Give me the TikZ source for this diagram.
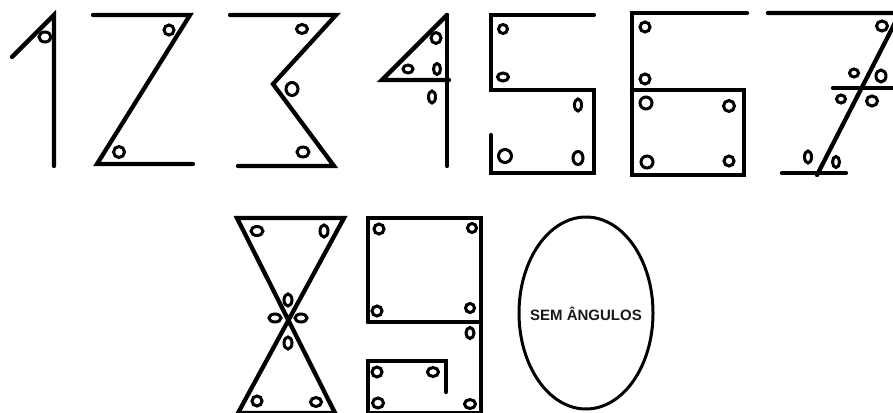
\documentclass[tikz,border=0pt]{standalone}
\usepackage{fontspec}
\newfontfamily\labelfont{Liberation Sans}
\usepackage{tikz}

\begin{document}
\begin{tikzpicture}[x=1pt,y=-1pt,dig/.style={line width=4.3pt,line cap=round,line join=miter},ring/.style={line width=3pt},oval/.style={line width=3pt},lbl/.style={font=\labelfont\bfseries\fontsize{15}{18}\selectfont,text=black!90}]
\clip (0,0) rectangle (893,412);
% 1
\draw[dig] (12,57)--(54,15)--(54,166);
\draw[ring] (45,37) ellipse (6 and 5);
% 2
\draw[dig] (93,15)--(190,15)--(97,164)--(193,164);
\draw[ring] (169,30) ellipse (5 and 5); \draw[ring] (119,152) ellipse (5.5 and 5.5);
% 3
\draw[dig] (230,15)--(336,15)--(273,84)--(334,166)--(238,166);
\draw[ring] (302,29) ellipse (5.5 and 4.5); \draw[ring] (292,89) ellipse (6 and 6.5); \draw[ring] (303,152) ellipse (6 and 5);
% 4
\draw[dig] (447,15)--(447,166); \draw[dig] (447,15)--(382,80)--(449,80);
\draw[ring] (436,38) ellipse (5 and 5.5); \draw[ring] (408,69) ellipse (5 and 4); \draw[ring] (437,69) ellipse (3.5 and 5.5); \draw[ring] (432,97) ellipse (3.5 and 6);
% 5
\draw[dig] (594,15)--(491,15)--(491,90)--(594,90)--(594,173)--(491,173)--(491,135);
\draw[ring] (503,29) ellipse (4.5 and 4.5); \draw[ring] (503,77) ellipse (5.5 and 4); \draw[ring] (578,105) ellipse (3.5 and 6); \draw[ring] (505,156) ellipse (6.5 and 6.5); \draw[ring] (578,158) ellipse (5 and 6.5);
% 6
\draw[dig] (747,13)--(632,13)--(632,175)--(744,175)--(744,90)--(632,90);
\draw[ring] (645,27) ellipse (5 and 5); \draw[ring] (645,79) ellipse (5 and 5); \draw[ring] (646,103) ellipse (6 and 6); \draw[ring] (729,106) ellipse (5.5 and 5.5); \draw[ring] (647,162) ellipse (6 and 6); \draw[ring] (729,161) ellipse (5 and 5);
% 7
\draw[dig] (768,13)--(900,13)--(817,175); \draw[dig] (833,88)--(900,88); \draw[dig] (782,173)--(846,173);
\draw[ring] (882,26) ellipse (5.5 and 5); \draw[ring] (854,73) ellipse (4.5 and 4); \draw[ring] (881,76) ellipse (5 and 6); \draw[ring] (841,99) ellipse (4.5 and 4); \draw[ring] (872,101) ellipse (5.5 and 5); \draw[ring] (808,157) ellipse (3.5 and 6); \draw[ring] (836,162) ellipse (3.5 and 5.5);
% 8
\draw[dig] (237,218)--(344,218)--(238,413)--(335,413)--cycle;
\draw[ring] (257,231) ellipse (6 and 4.5); \draw[ring] (324,231) ellipse (4 and 6); \draw[ring] (288,300) ellipse (4 and 6); \draw[ring] (275,318) ellipse (6 and 4); \draw[ring] (301,318) ellipse (6 and 4); \draw[ring] (288,343) ellipse (4 and 6); \draw[ring] (257,401) ellipse (5 and 5); \draw[ring] (316,402) ellipse (5.5 and 4.5);
% 9
\draw[dig] (368,322)--(368,218)--(481,218)--(481,413); \draw[dig] (368,322)--(481,322);
\draw[dig] (446,392)--(446,361)--(368,361)--(368,413)--(481,413);
\draw[ring] (379,229) ellipse (5 and 5); \draw[ring] (377,311) ellipse (5 and 5); \draw[ring] (472,228) ellipse (4.5 and 4.5); \draw[ring] (470,308) ellipse (4.5 and 4.5); \draw[ring] (470,333) ellipse (4 and 5.5); \draw[ring] (377,372) ellipse (5 and 5); \draw[ring] (433,372) ellipse (5.5 and 4.5); \draw[ring] (378,403) ellipse (5.5 and 5); \draw[ring] (470,404) ellipse (5.5 and 4.5);
% 0
\draw[oval] (586,313) ellipse (67 and 96);
\node[lbl] (zero) at (586,314) {SEM ÂNGULOS};
\end{tikzpicture}
\end{document}
